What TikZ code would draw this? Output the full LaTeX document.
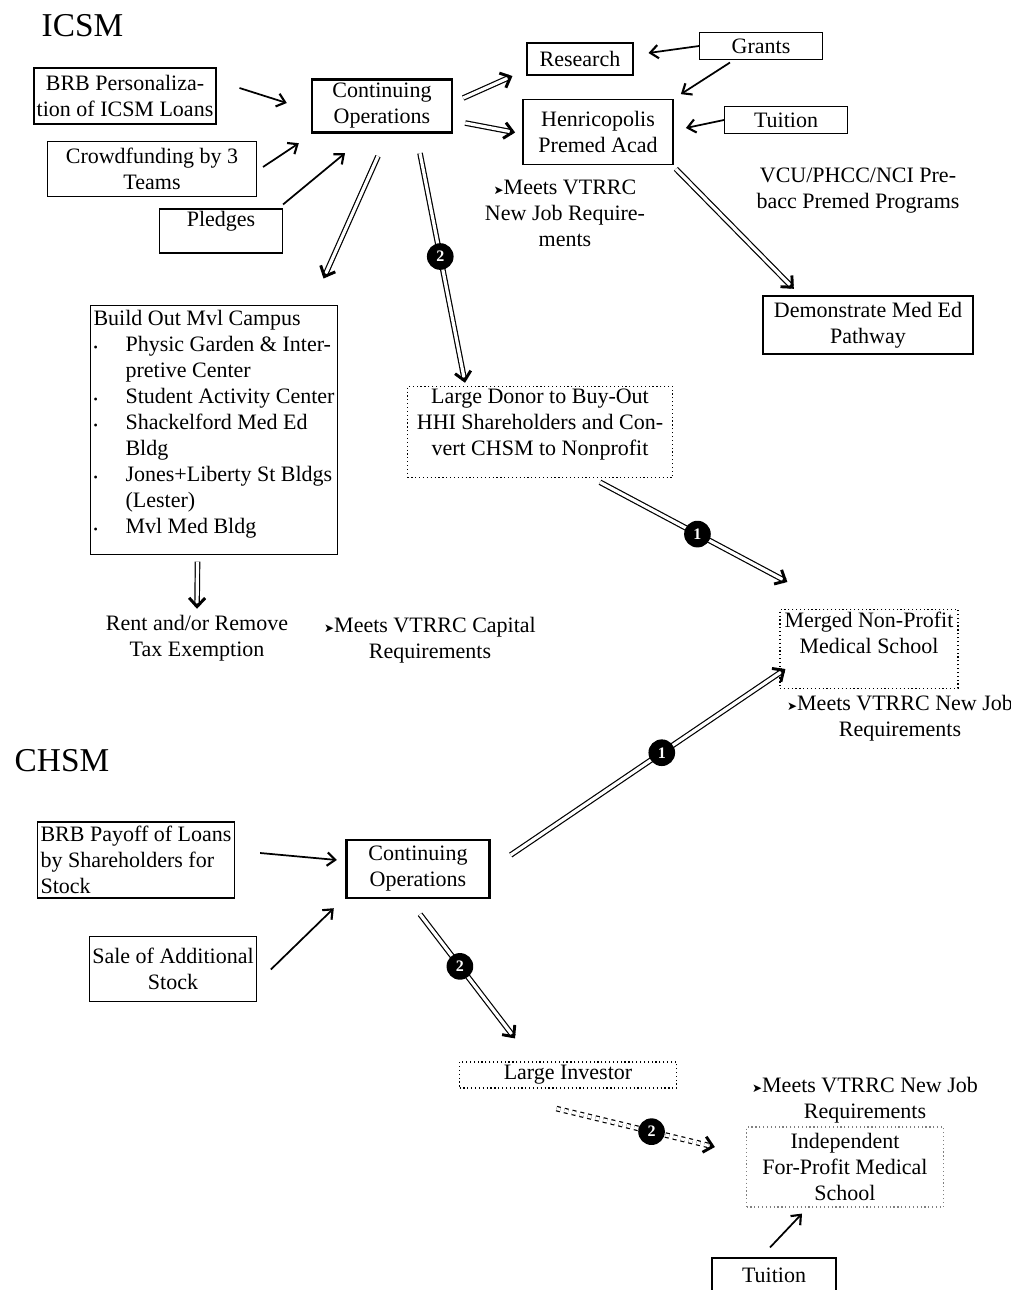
\documentclass[tikz,border=0pt]{standalone}
\usepackage{fontspec}
\setmainfont{Liberation Serif}
\newfontfamily\dejavu{DejaVu Sans}
\usetikzlibrary{arrows.meta,calc}
\newcommand\mk{{\dejavu\fontsize{9}{9}\selectfont ➤}}
\newcommand\bul{\makebox[24pt][l]{\raisebox{0.5pt}{\small\textbullet}}}
\newcommand\ind{\hspace*{24pt}}
\newcommand\dhd[2]{\draw[dhead] ($(#2)!4pt!(#1)$) -- (#2);}
\begin{document}
\begin{tikzpicture}[x=0.75pt,y=-0.75pt,
  font=\fontsize{16.5}{19.5}\selectfont,
  wh/.style 2 args={minimum width=#1*0.75pt, minimum height=#2*0.75pt},
  box/.style={draw, line width=0.8pt, inner sep=2pt, align=center},
  thickbox/.style={box, line width=1.8pt},
  dotbox/.style={draw, dotted, line width=0.9pt, inner sep=2pt, align=center},
  txt/.style={align=center, inner sep=0pt},
  arr/.style={-{Straight Barb[length=6pt,width=10pt,line width=1.6pt]}, line width=1.3pt},
  darr/.style={double, double distance=2.4pt, line width=0.9pt, shorten >=2pt},
  dhead/.style={-{Straight Barb[length=6.5pt,width=12pt,line width=2.2pt]}, line width=1.2pt},
  badge/.style={circle, fill=black, text=white, inner sep=0pt, minimum size=20pt,
    font=\bfseries\fontsize{12}{12}\selectfont, solid},
  title/.style={anchor=base west, font=\fontsize{25}{28}\selectfont}]
\useasboundingbox (0,0) rectangle (1011,1290);

% titles
\node[title] (ticsm) at (37,36) {ICSM};
\node[title] (tchsm) at (10,771) {CHSM};

% ICSM part
\node[box,wh={176}{56}] (brbp) at (125,96) {BRB Personaliza-\\tion of ICSM Loans};
\node[box,wh={209}{55}] (crowd) at (152,169) {Crowdfunding by 3\\Teams};
\node[box,wh={123}{44},text height=11pt,text depth=18pt] (pledges) at (221,231) {Pledges};
\node[thickbox,wh={140}{53}] (contI) at (382,106) {Continuing\\Operations};
\node[box,wh={106}{32}] (research) at (580,59) {Research};
\node[box,wh={123}{27}] (grants) at (761,46) {Grants};
\node[box,line width=1.3pt,wh={150}{65}] (henri) at (598,132) {Henricopolis\\Premed Acad};
\node[box,wh={123}{27}] (tuitionA) at (786,120) {Tuition};
\node[txt] (meetsA) at (565,213) {\mk Meets VTRRC\\New Job Require-\\ments};
\node[txt] (vcu) at (858,191) {VCU/PHCC/NCI Pre-\\bacc Premed Programs};
\node[thickbox,wh={210}{58}] (demo) at (868,325) {Demonstrate Med Ed\\Pathway};
\node[box,anchor=north west,wh={247}{249},align=left,inner sep=1pt] (build) at (90,305)
  {Build Out Mvl Campus\\
   \bul Physic Garden \& Inter-\\
   \ind pretive Center\\
   \bul Student Activity Center\\
   \bul Shackelford Med Ed\\
   \ind Bldg\\
   \bul Jones+Liberty St Bldgs\\
   \ind (Lester)\\
   \bul Mvl Med Bldg\\[-7.5pt]\mbox{}};
\node[dotbox,wh={265}{88}] (donor) at (540,432)
  {Large Donor to Buy-Out\\HHI Shareholders and Con-\\vert CHSM to Nonprofit\\[-5pt]\mbox{}};
\node[txt] (rent) at (197,638) {Rent and/or Remove\\Tax Exemption};
\node[txt] (meetsB) at (430,640) {\mk Meets VTRRC Capital\\Requirements};
\node[dotbox,wh={178}{78}] (merged) at (869,649) {Merged Non-Profit\\Medical School\\[4.5pt]\mbox{}};
\node[txt] (meetsC) at (900,718) {\mk Meets VTRRC New Job\\Requirements};

% CHSM part
\node[box,wh={193}{76},align=left] (brbpay) at (136,860) {BRB Payoff of Loans\\by Shareholders for\\Stock};
\node[box,wh={166}{65}] (sale) at (173,969) {Sale of Additional\\Stock};
\node[thickbox,wh={143}{58}] (contC) at (418,869) {Continuing\\Operations};
\node[dotbox,wh={217}{26}] (investor) at (568,1075) {Large Investor};
\node[txt] (meetsD) at (865,1100) {\mk Meets VTRRC New Job\\Requirements};
\node[dotbox,draw=gray,wh={197}{80}] (indep) at (845,1167) {Independent\\For-Profit Medical\\School};
\node[box,wh={124}{34}] (tuitionB) at (774,1275) {Tuition};

% single arrows
\draw[arr] ($(brbp.east)+(23,-8)$) -- ($(contI.west)+(-24,-3)$);
\draw[arr] ($(crowd.east)+(6,-2)$) -- ($(contI.south west)+(-12,9.5)$);
\draw[arr] ($(pledges.north east)+(0,-4)$) -- ($(contI.south)+(-37,19.5)$);
\draw[arr] (grants.west) -- ($(research.east)+(15,-6)$);
\draw[arr] ($(grants.south)+(-31,2.5)$) -- ($(henri.north east)+(7,-4.5)$);
\draw[arr] (tuitionA.west) -- ($(henri.east)+(12,-4)$);
\draw[arr] ($(brbpay.east)+(25.5,-7)$) -- ($(contC.west)+(-8.5,-9)$);
\draw[arr] ($(sale.east)+(14,0.5)$) -- ($(contC.south west)+(-11.5,9)$);
\draw[arr] ($(tuitionB.north)+(-4,-10)$) -- ($(indep.south)+(-43,6)$);

% double arrows: end points
\coordinate (s1) at ($(contI.east)+(10,-8)$);       \coordinate (e1) at ($(research.west)+(-14,17)$);
\coordinate (s2) at ($(contI.east)+(12,17)$);       \coordinate (e2) at ($(henri.west)+(-7,0.5)$);
\coordinate (s3) at ($(contI.south)+(-4,22.5)$);    \coordinate (e3) at ($(build.north east)+(-14.5,-26.5)$);
\coordinate (s4) at ($(contI.south)+(38,19.5)$);    \coordinate (e4) at ($(donor.north)+(-75,-3)$);
\coordinate (s5) at ($(henri.south east)+(2,3.5)$); \coordinate (e5) at ($(demo.north west)+(32,-6)$);
\coordinate (s6) at ($(build.south)+(-16.5,6.5)$);  \coordinate (e6) at ($(rent.north)+(0,-6)$);
\coordinate (s7) at ($(donor.south)+(60,4)$);       \coordinate (e7) at ($(merged.north west)+(8,-27)$);
\coordinate (s8) at ($(contC.east)+(20,-14)$);      \coordinate (e8) at ($(merged.south west)+(6,-20)$);
\coordinate (s9) at ($(contC.south)+(2,15)$);       \coordinate (e9) at ($(investor.north)+(-53,-23)$);
\coordinate (s10) at ($(investor.south)+(-11.5,20)$); \coordinate (e10) at ($(indep.west)+(-31,-20)$);

\draw[darr] (s1) -- (e1);
\draw[darr] (s2) -- (e2);
\draw[darr] (s3) -- (e3);
\draw[darr] (s4) -- node[badge,pos=0.45]{2} (e4);
\draw[darr] (s5) -- (e5);
\draw[darr] (s6) -- (e6);
\draw[darr] (s7) -- node[badge,pos=0.52]{1} (e7);
\draw[darr] (s8) -- node[badge,pos=0.55]{1} (e8);
\draw[darr] (s9) -- node[badge,pos=0.42]{2} (e9);
\draw[darr,dashed] (s10) -- node[badge,pos=0.6]{2} (e10);
\dhd{s1}{e1}\dhd{s2}{e2}\dhd{s3}{e3}\dhd{s4}{e4}\dhd{s5}{e5}
\dhd{s6}{e6}\dhd{s7}{e7}\dhd{s8}{e8}\dhd{s9}{e9}\dhd{s10}{e10}
\end{tikzpicture}
\end{document}
